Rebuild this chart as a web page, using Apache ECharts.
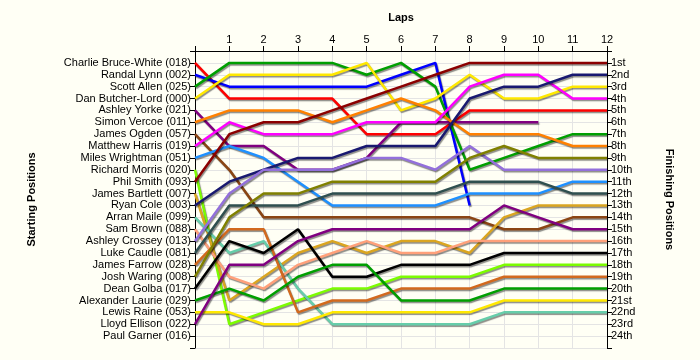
<!DOCTYPE html>
<html><head><meta charset="utf-8">
<script src="https://cdn.jsdelivr.net/npm/echarts@6/dist/echarts.min.js"></script>
<style>html,body{margin:0;padding:0;background:#FFFFF5;} #c{width:700px;height:360px;}</style>
</head><body><div id="c"></div>
<script>
const laps = [0,1,2,3,4,5,6,7,8,9,10,11,12];
const lapLabels = ['','1','2','3','4','5','6','7','8','9','10','11','12'];
const startNames = ['Charlie Bruce-White (018)','Randal Lynn (002)','Scott Allen (025)','Dan Butcher-Lord (000)','Ashley Yorke (021)','Simon Vercoe (011)','James Ogden (057)','Matthew Harris (019)','Miles Wrightman (051)','Richard Morris (020)','Phil Smith (093)','James Bartlett (007)','Ryan Cole (003)','Arran Maile (099)','Sam Brown (088)','Ashley Crossey (013)','Luke Caudle (081)','James Farrow (028)','Josh Waring (008)','Dean Golba (017)','Alexander Laurie (029)','Lewis Raine (053)','Lloyd Ellison (022)','Paul Garner (016)'];
const finishLabels = ['1st','2nd','3rd','4th','5th','6th','7th','8th','9th','10th','11th','12th','13th','14th','15th','16th','17th','18th','19th','20th','21st','22nd','23rd','24th'];

// positions per lap (lap 0 = start)
const charlie   = [1,4,4,4,4,7,7,7,5,5,5,5,5];
const randal    = [2,3,3,3,3,3,2,1,13];
const scott     = [3,1,1,1,1,2,1,3,10,9,8,7,7];
const dan       = [4,2,2,2,2,1,5,4,2,4,4,3,3];
const ashleyY   = [5,8,8,10,10,9,6,6,6,6,6];
const simon     = [6,5,5,5,6,5,4,5,7,7,7,8,8];
const jamesO    = [7,10,14,14,14,14,14,14,14,15,15,14,14];
const matthew   = [8,6,7,7,7,6,6,6,3,2,2,4,4];
const miles     = [9,8,9,11,13,13,13,13,12,12,12,11,11];
const richard   = [10,23,22,21,20,20,19,19,19,18,18,18,18];
const phil      = [11,7,6,6,5,4,3,2,1,1,1,1,1];
const jamesB    = [12,21,19,17,16,17,16,16,17,14,13,13,13];
const ryan      = [13,11,10,9,9,8,8,8,4,3,3,2,2];
const arran     = [14,17,16,20,23,23,23,23,23,22,22,22,22];
const sam       = [15,19,20,18,17,16,17,17,16,16,16,16,16];
const ashleyC   = [16,12,10,10,10,9,9,10,8,10,10,10,10];
const luke      = [17,13,13,13,12,12,12,12,11,11,11,12,12];
const jamesF    = [18,15,15,22,21,21,20,20,20,19,19,19,19];
const josh      = [19,14,12,12,11,11,11,11,9,8,9,9,9];
const dean      = [20,16,17,15,19,19,18,18,18,17,17,17,17];
const alexander = [21,20,21,19,18,18,21,21,21,20,20,20,20];
const lewis     = [22,22,23,23,22,22,22,22,22,21,21,21,21];
const lloyd     = [23,18,18,16,15,15,15,15,15,13,14,15,15];

const seriesList = [charlie,randal,scott,dan,ashleyY,simon,jamesO,matthew,miles,richard,phil,jamesB,ryan,arran,sam,ashleyC,luke,jamesF,josh,dean,alexander,lewis,lloyd];
const colors = ['#FF0000','#0000FF','#009F00','#FFE800','#800080','#FF8000','#8B4513','#FF00FF','#1E90FF','#7CFC00','#8B0000','#DAA520','#191970','#66CDAA','#FFA07A','#9370DB','#2F4F4F','#D2691E','#808000','#000000','#009F00','#FFE800','#800080'];

const FONT = 'Liberation Sans';
const chart = echarts.init(document.getElementById('c'), null, {renderer:'canvas'});
const yCommon = {
  type:'value', inverse:true, min:0, max:25, interval:1,
  axisLine:{show:true, lineStyle:{color:'#000', width:1}},
  axisTick:{show:true, length:5, lineStyle:{color:'#000'}},
  nameLocation:'middle',
  nameTextStyle:{fontWeight:'bold', fontSize:11, color:'#000', fontFamily:FONT}
};
chart.setOption({
  animation:false,
  backgroundColor:'#FFFFF5',
  grid:{left:195, right:93, top:51, bottom:12},
  xAxis:{
    type:'value', position:'top', min:0, max:12, interval:1,
    name:'Laps', nameLocation:'middle', nameGap:28,
    nameTextStyle:{fontWeight:'bold', fontSize:11, color:'#000', fontFamily:FONT},
    axisLine:{show:true, lineStyle:{color:'#000'}},
    axisTick:{show:true, length:5, lineStyle:{color:'#000'}},
    axisLabel:{formatter:v=>lapLabels[v]||'', color:'#000', fontSize:11, fontFamily:FONT, margin:6},
    splitLine:{show:true, lineStyle:{color:'#E4E4E4'}}
  },
  yAxis:[
    Object.assign({}, yCommon, {
      position:'left', name:'Starting Positions', nameGap:158, nameRotate:90,
      axisLabel:{formatter:v=>startNames[v-1]||'', color:'#000', fontSize:11, fontFamily:FONT, margin:4},
      splitLine:{show:true, lineStyle:{color:'#E4E4E4'}}
    }),
    Object.assign({}, yCommon, {
      position:'right', name:'Finishing Positions', nameGap:57, nameRotate:-90,
      axisLabel:{formatter:v=>finishLabels[v-1]||'', color:'#000', fontSize:11, fontFamily:FONT, margin:4},
      splitLine:{show:false}
    })
  ],
  series: seriesList.map((arr,i)=>({
    type:'line', name:startNames[i], yAxisIndex:0,
    data: arr.map((p,k)=>[laps[k], p]),
    symbol:'none', silent:true,
    lineStyle:{color:colors[i], width:2.5, shadowColor:'rgba(0,0,0,0.45)', shadowOffsetX:1, shadowOffsetY:1.5, shadowBlur:1},
    itemStyle:{color:colors[i]}
  }))
});
</script>
</body></html>
